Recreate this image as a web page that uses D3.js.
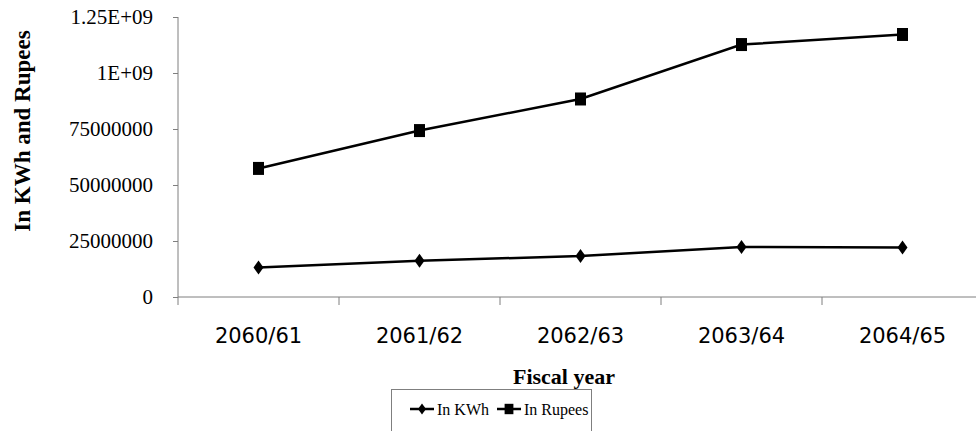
<!DOCTYPE html>
<html><head><meta charset="utf-8">
<script src="https://cdn.jsdelivr.net/npm/d3@7"></script>
<style>html,body{margin:0;padding:0;background:#fff;overflow:hidden}
.serif{font-family:"Liberation Serif","Times New Roman",serif}
.sans{font-family:"DejaVu Sans",sans-serif}</style>
</head><body>
<svg id="c" width="976" height="431"></svg>
<script>
const categories = ["2060/61", "2061/62", "2062/63", "2063/64", "2064/65"];
const kwhValues = [1.32e8, 1.62e8, 1.83e8, 2.23e8, 2.21e8];
const rupeeValues = [5.74e8, 7.43e8, 8.84e8, 1.127e9, 1.172e9];
const yTickValues = [0, 2.5e8, 5e8, 7.5e8, 1e9, 1.25e9];
const yTickLabels = ["0", "25000000", "50000000", "75000000", "1E+09", "1.25E+09"];
const seriesNames = ["In KWh", "In Rupees"];

const svg = d3.select("#c");
const x = d3.scaleBand().domain(categories).range([178, 983]);
const y = d3.scaleLinear().domain([0, 1.25e9]).range([297, 17]);
const axisColor = "#7f7f7f";

// Y axis
const yAxis = svg.append("g").attr("transform", "translate(178,0)")
  .call(d3.axisLeft(y).tickValues(yTickValues).tickSize(5).tickPadding(20)
    .tickFormat((d, i) => yTickLabels[i]));
yAxis.attr("font-family", null).attr("font-size", null);
yAxis.select(".domain").attr("stroke", axisColor).attr("d", "M0,17V305");
yAxis.selectAll(".tick line").attr("stroke", axisColor);
yAxis.selectAll("text").attr("class", "serif")
  .style("font-size", "21px").attr("fill", "#000");

// X axis
const xAxis = svg.append("g").attr("transform", "translate(0,297)")
  .call(d3.axisBottom(x).tickSize(0).tickPadding(31));
xAxis.attr("font-family", null).attr("font-size", null);
xAxis.select(".domain").attr("stroke", axisColor).attr("d", "M178,0H983");
xAxis.selectAll("text").attr("class", "sans")
  .style("font-size", "21px").attr("fill", "#000");
// boundary ticks
svg.append("g").selectAll("line").data(categories.slice(1)).join("line")
  .attr("x1", d => x(d)).attr("x2", d => x(d))
  .attr("y1", 297).attr("y2", 305).attr("stroke", axisColor);

// Lines
const line = d3.line().x((d, i) => x(categories[i]) + x.bandwidth() / 2).y(d => y(d));
[kwhValues, rupeeValues].forEach(vals => {
  svg.append("path").datum(vals).attr("d", line)
    .attr("fill", "none").attr("stroke", "#000").attr("stroke-width", 2.5);
});
const diamond = "M0,-7L5,0L0,7L-5,0Z";
const square = "M-5.5,-6.5H5.5V6.5H-5.5Z";
svg.append("g").selectAll("path").data(kwhValues).join("path")
  .attr("d", diamond)
  .attr("transform", (d, i) => `translate(${x(categories[i]) + x.bandwidth() / 2},${y(d)})`);
svg.append("g").selectAll("path").data(rupeeValues).join("path")
  .attr("d", square)
  .attr("transform", (d, i) => `translate(${x(categories[i]) + x.bandwidth() / 2},${y(d)})`);

// Axis titles
svg.append("text").attr("class", "serif").attr("transform", "translate(30,131) rotate(-90)")
  .attr("text-anchor", "middle")
  .style("font-weight", "bold").style("font-size", "23px").text("In KWh and Rupees");
svg.append("text").attr("class", "serif").attr("x", 564).attr("y", 384)
  .attr("text-anchor", "middle")
  .style("font-weight", "bold").style("font-size", "22px").text("Fiscal year");

// Legend
const lg = svg.append("g");
lg.append("rect").attr("x", 391.5).attr("y", 389.5).attr("width", 200).attr("height", 60)
  .attr("fill", "#fff").attr("stroke", axisColor);
const lx = [410, 497];
const markers = [diamond, square];
seriesNames.forEach((name, i) => {
  const g = lg.append("g").attr("transform", `translate(${lx[i]},409)`);
  g.append("line").attr("x1", 0).attr("x2", 24).attr("stroke", "#000").attr("stroke-width", 2.5);
  g.append("path").attr("d", markers[i]).attr("transform", "translate(12,0) scale(0.8)");
  g.append("text").attr("class", "serif").attr("x", 27).attr("y", 6)
    .style("font-size", "16px").text(name);
});
</script>
</body></html>
